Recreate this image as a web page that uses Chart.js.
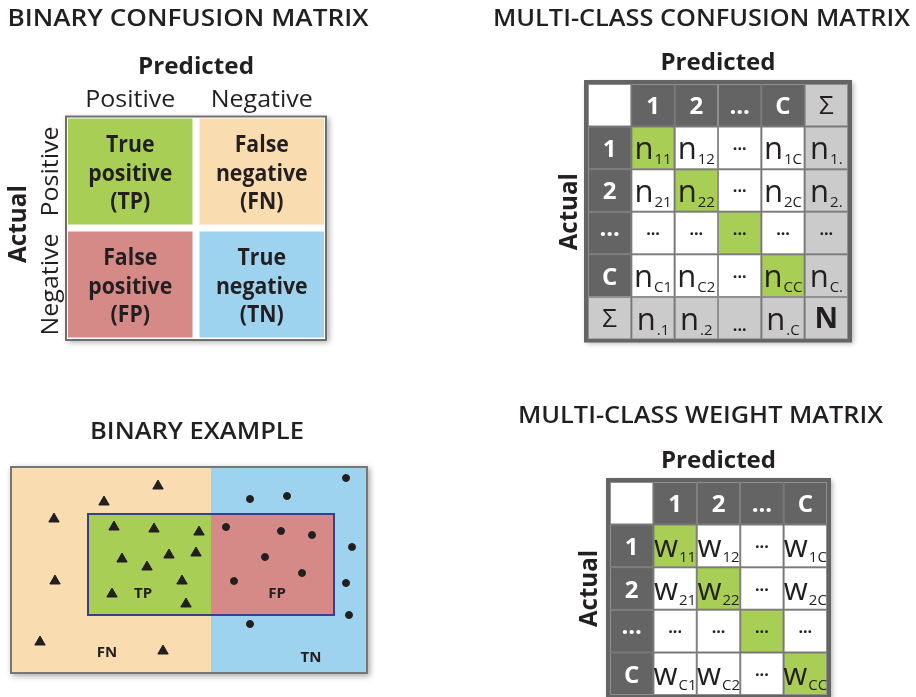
<!DOCTYPE html>
<html lang="en">
<head>
<meta charset="utf-8">
<title>Confusion matrices</title>
<script src="https://cdn.jsdelivr.net/npm/chart.js@4.4.1/dist/chart.umd.min.js"></script>
<style>
  html, body { margin: 0; padding: 0; background: #ffffff; }
  .board { position: relative; width: 916px; height: 697px; overflow: hidden; }
  .board canvas { position: absolute; left: 0; top: 0; }
</style>
</head>
<body>
<div class="board">
  <canvas id="binaryMatrix" width="916" height="697"></canvas>
  <canvas id="multiMatrix" width="916" height="697"></canvas>
  <canvas id="binaryExample" width="916" height="697"></canvas>
  <canvas id="weightMatrix" width="916" height="697"></canvas>
</div>
<script>
// ===== data =====
const binaryClasses = ['Positive', 'Negative'];
const binaryCells = [
  ['True|positive|(TP)', 'False|negative|(FN)'],
  ['False|positive|(FP)', 'True|negative|(TN)']
];

const multiClasses = ['1', '2', '...', 'C'];
const countCells = [
  ['n_11', 'n_12', '...', 'n_1C'],
  ['n_21', 'n_22', '...', 'n_2C'],
  ['...', '...', '...', '...'],
  ['n_C1', 'n_C2', '...', 'n_CC']
];
const rowTotals = ['n_1.', 'n_2.', '...', 'n_C.'];
const colTotals = ['n_.1', 'n_.2', '...', 'n_.C'];
const grandTotal = 'N';

const weightCells = [
  ['w_11', 'w_12', '...', 'w_1C'],
  ['w_21', 'w_22', '...', 'w_2C'],
  ['...', '...', '...', '...'],
  ['w_C1', 'w_C2', '...', 'w_CC']
];

// binary example (x 0-358, y 0-208 from top left of the box)
const actualPositives = [
  { x: 148, y: 20 }, { x: 94, y: 36 }, { x: 44, y: 53 }, { x: 104, y: 61 },
  { x: 144, y: 63 }, { x: 189, y: 66 }, { x: 112, y: 93 }, { x: 159, y: 89 },
  { x: 186, y: 87 }, { x: 137, y: 101 }, { x: 45, y: 115 }, { x: 172, y: 115 },
  { x: 102, y: 128 }, { x: 176, y: 138 }, { x: 30, y: 176 }, { x: 153, y: 185 }
];
const actualNegatives = [
  { x: 336, y: 12 }, { x: 240, y: 33 }, { x: 277, y: 30 }, { x: 216, y: 61 },
  { x: 271, y: 65 }, { x: 302, y: 69 }, { x: 342, y: 81 }, { x: 255, y: 91 },
  { x: 292, y: 107 }, { x: 224, y: 115 }, { x: 336, y: 117 }, { x: 339, y: 149 },
  { x: 240, y: 158 }
];
const actualBoundary = 201;
const predictedPositive = { x0: 78, x1: 324, y0: 48, y1: 149 };
const exampleLabels = [
  { text: 'TP', x: 133, y: 127 },
  { text: 'FP', x: 267, y: 127 },
  { text: 'FN', x: 97, y: 186 },
  { text: 'TN', x: 301, y: 191 }
];

// ===== styles =====
const INK = '#231f20';
const FONT = '"Open Sans", "Noto Sans", sans-serif';
const GREEN = '#a9ce56';
const PEACH = '#fadcb1';
const SALMON = '#d58a87';
const SKY = '#9dd3ef';
const DARK = '#646464';
const LIGHT = '#cbcbcb';
const ROLE_FILL = { corner: '#ffffff', head: DARK, sum: LIGHT, body: '#ffffff', diag: GREEN };

function say(ctx, text, x, y, opt) {
  ctx.save();
  ctx.font = opt.font;
  ctx.fillStyle = opt.color || INK;
  ctx.textAlign = opt.align || 'center';
  ctx.textBaseline = opt.baseline || 'alphabetic';
  ctx.translate(x, y);
  if (opt.rotate) ctx.rotate(opt.rotate);
  let sx = opt.sx || 1;
  if (opt.width) sx = opt.width / ctx.measureText(text).width;
  ctx.scale(sx, 1);
  ctx.fillText(text, 0, 0);
  ctx.restore();
}

function squeeze(ctx, font, ref, width) {
  ctx.save();
  ctx.font = font;
  const w = ctx.measureText(ref).width;
  ctx.restore();
  return width / w;
}

const baseOptions = (padding) => ({
  responsive: false,
  animation: false,
  events: [],
  layout: { padding },
  plugins: { legend: { display: false }, tooltip: { enabled: false } }
});

// ===== binary confusion matrix =====
const binaryColors = [[GREEN, PEACH], [SALMON, SKY]];

const binaryDecor = {
  id: 'binaryDecor',
  beforeDatasetsDraw(chart) {
    const { ctx, chartArea: a } = chart;
    ctx.save();
    ctx.shadowColor = 'rgba(0,0,0,0.35)';
    ctx.shadowBlur = 6;
    ctx.shadowOffsetX = 2;
    ctx.shadowOffsetY = 2;
    ctx.fillStyle = '#ffffff';
    ctx.fillRect(a.left + 1, a.top + 1, a.width - 2, a.height - 2);
    ctx.restore();
  },
  afterDatasetsDraw(chart) {
    const { ctx, chartArea: a, scales: { x, y } } = chart;
    ctx.save();
    ctx.strokeStyle = '#6e6e6e';
    ctx.lineWidth = 2;
    ctx.strokeRect(a.left + 1.5, a.top + 1.5, a.width - 3, a.height - 2.5);
    ctx.restore();

    const cellFont = `bold 24px ${FONT}`;
    const sx = squeeze(ctx, cellFont, 'positive', 84);
    binaryCells.forEach((row, r) => {
      const meta = chart.getDatasetMeta(r);
      row.forEach((text, c) => {
        const el = meta.data[c];
        const mid = (el.y + el.base) / 2;
        text.split('|').forEach((line, i) => {
          say(ctx, line, el.x, mid + 9 + (i - 1) * 28.5, { font: cellFont, sx });
        });
      });
    });

    say(ctx, 'BINARY CONFUSION MATRIX', 188, 26, { font: `600 24px ${FONT}`, width: 361 });
    say(ctx, 'Predicted', (a.left + a.right) / 2, a.top - 41, { font: `bold 24px ${FONT}`, width: 116 });
    const tickFont = `23px ${FONT}`;
    const tsx = squeeze(ctx, tickFont, 'Negative', 102);
    binaryClasses.forEach((name, i) => {
      say(ctx, name, x.getPixelForValue(i), a.top - 8, { font: tickFont, sx: tsx });
      say(ctx, name, a.left - 6.5, y.getPixelForValue(i + 0.5), { font: tickFont, sx: tsx, rotate: -Math.PI / 2 });
    });
    say(ctx, 'Actual', 26, (a.top + a.bottom) / 2 - 4, { font: `bold 25px ${FONT}`, width: 78, rotate: -Math.PI / 2 });
  }
};

new Chart(document.getElementById('binaryMatrix'), {
  type: 'bar',
  data: {
    labels: binaryClasses,
    datasets: binaryCells.map((row, r) => ({
      label: binaryClasses[r],
      data: row.map(() => 1),
      backgroundColor: binaryColors[r],
      borderColor: '#ffffff',
      borderWidth: 3.5,
      borderSkipped: false,
      inflateAmount: 0,
      barPercentage: 1,
      categoryPercentage: 1
    }))
  },
  options: Object.assign(baseOptions({ left: 64.5, top: 115, right: 588.5, bottom: 356 }), {
    scales: {
      x: { stacked: true, display: false },
      y: { stacked: true, display: false, min: 0, max: binaryCells.length, reverse: true }
    }
  }),
  plugins: [binaryDecor]
});

// ===== multi-class matrices =====
function buildGrid(cells, rowSums, colSums, total) {
  const withSums = !!rowSums;
  const rows = [];
  const head = [{ text: '', role: 'corner' }];
  multiClasses.forEach(c => head.push({ text: c, role: 'head', low: true }));
  if (withSums) head.push({ text: 'Σ', role: 'sum' });
  rows.push(head);
  cells.forEach((line, r) => {
    const row = [{ text: multiClasses[r], role: 'head' }];
    line.forEach((t, c) => row.push({ text: t, role: r === c ? 'diag' : 'body' }));
    if (withSums) row.push({ text: rowSums[r], role: 'sum' });
    rows.push(row);
  });
  if (withSums) {
    const last = [{ text: 'Σ', role: 'sum' }];
    colSums.forEach(t => last.push({ text: t, role: 'sum', low: true }));
    last.push({ text: total, role: 'sum', bold: true });
    rows.push(last);
  }
  return rows;
}

function drawCellText(ctx, cell, cx, top, bottom) {
  const t = cell.text;
  if (!t) return;
  const mid = (top + bottom) / 2;
  const head = cell.role === 'head';
  const color = head ? '#ffffff' : INK;
  ctx.save();
  ctx.fillStyle = color;
  ctx.textBaseline = 'alphabetic';
  if (t.includes('_')) {
    const [main, sub] = t.split('_');
    const mainFont = `31px ${FONT}`;
    const subFont = `15px ${FONT}`;
    ctx.font = mainFont;
    const wm = ctx.measureText(main).width;
    ctx.font = subFont;
    const ws = ctx.measureText(sub).width;
    const x0 = cx - (wm + 1 + ws) / 2;
    ctx.textAlign = 'left';
    ctx.font = mainFont;
    ctx.fillText(main, x0, bottom - 10);
    ctx.font = subFont;
    ctx.fillText(sub, x0 + wm + 1, bottom - 5);
  } else if (t === '...') {
    ctx.textAlign = 'center';
    if (head) {
      ctx.font = `bold 24px ${FONT}`;
      ctx.fillText(t, cx, cell.low ? bottom - 13 : mid + 3);
    } else {
      ctx.font = `bold 16px ${FONT}`;
      ctx.fillText(t, cx, cell.low ? bottom - 9 : mid + 2);
    }
  } else {
    ctx.textAlign = 'center';
    if (t === 'Σ') {
      ctx.font = `26px ${FONT}`;
      ctx.fillText(t, cx, mid + 9);
    } else if (cell.bold) {
      ctx.font = `bold 29px ${FONT}`;
      ctx.fillText(t, cx, mid + 10);
    } else {
      ctx.font = `bold 24px ${FONT}`;
      ctx.fillText(t, cx, mid + 9);
    }
  }
  ctx.restore();
}

function matrixDecor(grid, cfg) {
  return {
    id: 'matrixDecor',
    beforeDatasetsDraw(chart) {
      const { ctx, chartArea: a } = chart;
      ctx.save();
      ctx.shadowColor = 'rgba(0,0,0,0.3)';
      ctx.shadowBlur = 5;
      ctx.shadowOffsetX = 1.5;
      ctx.shadowOffsetY = 1.5;
      ctx.fillStyle = DARK;
      ctx.fillRect(a.left - 4, a.top - 4, a.width + 8, a.height + 7);
      ctx.restore();
    },
    afterDatasetsDraw(chart) {
      const { ctx, chartArea: a } = chart;
      grid.forEach((row, r) => {
        const meta = chart.getDatasetMeta(r);
        row.forEach((cell, c) => {
          const el = meta.data[c];
          drawCellText(ctx, cell, el.x, Math.min(el.y, el.base), Math.max(el.y, el.base));
        });
      });
      say(ctx, cfg.title, cfg.titleX, cfg.titleY, { font: `600 24px ${FONT}`, width: cfg.titleW });
      say(ctx, 'Predicted', (a.left + a.right) / 2, a.top - 14, { font: `bold 24px ${FONT}`, width: 115 });
      say(ctx, 'Actual', a.left - cfg.actualGap, (a.top + a.bottom) / 2, { font: `bold 25px ${FONT}`, width: 77, rotate: -Math.PI / 2 });
    }
  };
}

function matrixChart(canvasId, grid, padding, cfg) {
  return new Chart(document.getElementById(canvasId), {
    type: 'bar',
    data: {
      labels: grid[0].map(cell => cell.text),
      datasets: grid.map((row, r) => ({
        label: 'row ' + r,
        data: row.map(() => 1),
        backgroundColor: row.map(cell => ROLE_FILL[cell.role]),
        borderColor: '#8f8f8f',
        borderWidth: 1,
        borderSkipped: false,
        inflateAmount: 0,
        barPercentage: 1,
        categoryPercentage: 1
      }))
    },
    options: Object.assign(baseOptions(padding), {
      scales: {
        x: { stacked: true, display: false },
        y: { stacked: true, display: false, min: 0, max: grid.length, reverse: true }
      }
    }),
    plugins: [matrixDecor(grid, cfg)]
  });
}

matrixChart('multiMatrix', buildGrid(countCells, rowTotals, colTotals, grandTotal),
  { left: 588, top: 84, right: 68, bottom: 357.5 },
  { title: 'MULTI-CLASS CONFUSION MATRIX', titleX: 701.5, titleY: 26, titleW: 417, actualGap: 11 });

matrixChart('weightMatrix', buildGrid(weightCells),
  { left: 610, top: 482, right: 89, bottom: 2 },
  { title: 'MULTI-CLASS WEIGHT MATRIX', titleX: 700.5, titleY: 423, titleW: 365, actualGap: 13 });

// ===== binary example =====
const exampleDecor = {
  id: 'exampleDecor',
  beforeDatasetsDraw(chart) {
    const { ctx, chartArea: a, scales: { x, y } } = chart;
    const split = x.getPixelForValue(actualBoundary);
    const px0 = x.getPixelForValue(predictedPositive.x0);
    const px1 = x.getPixelForValue(predictedPositive.x1);
    const py0 = y.getPixelForValue(predictedPositive.y0);
    const py1 = y.getPixelForValue(predictedPositive.y1);
    ctx.save();
    ctx.shadowColor = 'rgba(0,0,0,0.35)';
    ctx.shadowBlur = 6;
    ctx.shadowOffsetX = 2;
    ctx.shadowOffsetY = 2;
    ctx.fillStyle = '#ffffff';
    ctx.fillRect(a.left, a.top, a.width, a.height);
    ctx.restore();
    ctx.save();
    ctx.fillStyle = PEACH;
    ctx.fillRect(a.left, a.top, split - a.left, a.height);
    ctx.fillStyle = SKY;
    ctx.fillRect(split, a.top, a.right - split, a.height);
    ctx.fillStyle = GREEN;
    ctx.fillRect(px0, py0, split - px0, py1 - py0);
    ctx.fillStyle = SALMON;
    ctx.fillRect(split, py0, px1 - split, py1 - py0);
    ctx.strokeStyle = '#3b3e8c';
    ctx.lineWidth = 2;
    ctx.strokeRect(px0, py0, px1 - px0, py1 - py0);
    ctx.strokeStyle = '#767676';
    ctx.lineWidth = 2;
    ctx.strokeRect(a.left + 1, a.top + 1, a.width - 2, a.height - 2);
    ctx.restore();
  },
  afterDatasetsDraw(chart) {
    const { ctx, scales: { x, y } } = chart;
    exampleLabels.forEach(l => {
      say(ctx, l.text, x.getPixelForValue(l.x), y.getPixelForValue(l.y) + 5, { font: `bold 15px ${FONT}` });
    });
    say(ctx, 'BINARY EXAMPLE', 197, 439, { font: `600 24px ${FONT}`, width: 214 });
  }
};

new Chart(document.getElementById('binaryExample'), {
  type: 'scatter',
  data: {
    datasets: [
      {
        label: 'Actual positive',
        data: actualPositives,
        pointStyle: 'triangle',
        pointRadius: 6,
        pointBorderWidth: 1,
        backgroundColor: INK,
        borderColor: INK
      },
      {
        label: 'Actual negative',
        data: actualNegatives,
        pointStyle: 'circle',
        pointRadius: 3.5,
        pointBorderWidth: 1,
        backgroundColor: INK,
        borderColor: INK
      }
    ]
  },
  options: Object.assign(baseOptions({ left: 10, top: 466, right: 548, bottom: 23 }), {
    scales: {
      x: { type: 'linear', min: 0, max: 358, display: false },
      y: { type: 'linear', min: 0, max: 208, reverse: true, display: false }
    }
  }),
  plugins: [exampleDecor]
});
</script>
</body>
</html>
